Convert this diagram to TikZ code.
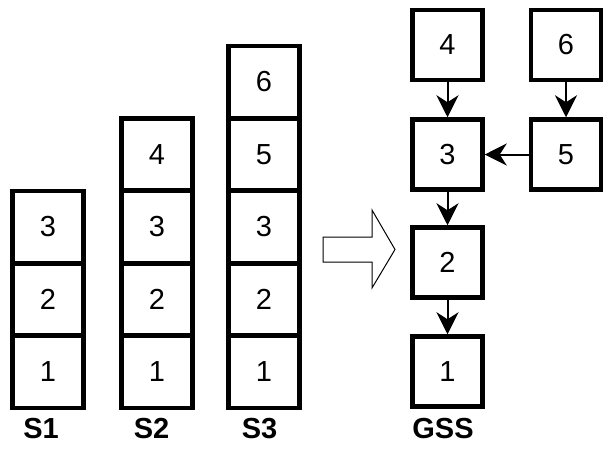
\documentclass[tikz,border=0pt]{standalone}
\usepackage{fontspec}
\setmainfont{Liberation Sans}
\usetikzlibrary{arrows.meta}
\begin{document}
\begin{tikzpicture}[x=1pt,y=-1pt,
  cell/.style={draw,line width=4.5pt,minimum width=71pt,minimum height=72pt,
    inner sep=0pt,font=\fontsize{29}{31}\selectfont},
  gcell/.style={cell,minimum width=70pt,minimum height=70pt},
  caption/.style={font=\bfseries\fontsize{29}{31}\selectfont,inner sep=0pt},
  link/.style={line width=2pt,-{Stealth[length=22pt,width=22pt,inset=7pt]}}]
\useasboundingbox (0,0) rectangle (603,448);
% stack S1
\node[cell] (a1) at (48,372) {1};
\node[cell] (a2) at (48,299.5) {2};
\node[cell] (a3) at (48,227) {3};
% stack S2
\node[cell] (b1) at (157,372) {1};
\node[cell] (b2) at (157,299.5) {2};
\node[cell] (b3) at (157,227) {3};
\node[cell] (b4) at (157,154.5) {4};
% stack S3
\node[cell] (c1) at (264,372) {1};
\node[cell] (c2) at (264,299.5) {2};
\node[cell] (c3) at (264,227) {3};
\node[cell] (c5) at (264,154.5) {5};
\node[cell] (c6) at (264,82) {6};
% merge arrow
\draw[line width=1pt,fill=white] (323,237) -- (372,237) -- (372,210) -- (395,249.5)
  -- (372,288) -- (372,262) -- (323,262) -- cycle;
% graph-structured stack
\node[gcell] (g4) at (447.5,45) {4};
\node[gcell] (g6) at (566,45) {6};
\node[gcell] (g3) at (447.5,154.5) {3};
\node[gcell] (g5) at (566,154.5) {5};
\node[gcell] (g2) at (447.5,262.5) {2};
\node[gcell] (g1) at (447.5,371.5) {1};
\draw[link] (g4) -- (g3);
\draw[link] (g6) -- (g5);
\draw[link] (g5) -- (g3);
\draw[link] (g3) -- (g2);
\draw[link] (g2) -- (g1);
% captions
\node[caption] (l1) at (41,429) {S1};
\node[caption] (l2) at (151.5,429) {S2};
\node[caption] (l3) at (259.5,429) {S3};
\node[caption] (l4) at (443,429) {GSS};
\end{tikzpicture}
\end{document}
